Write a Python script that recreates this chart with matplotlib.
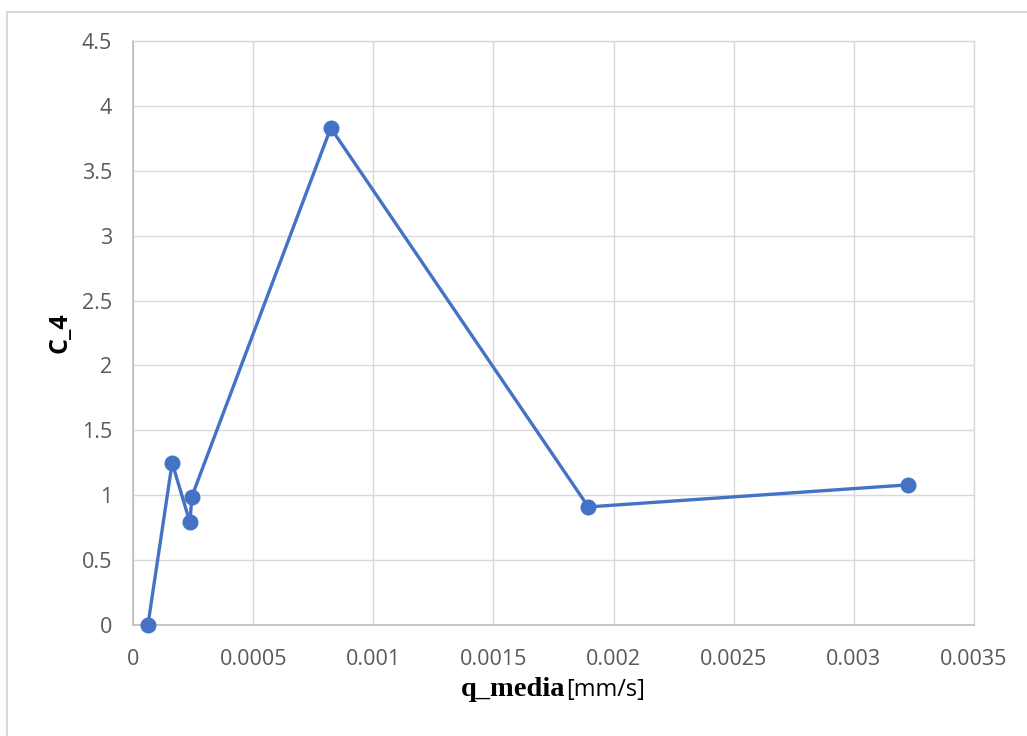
import matplotlib
matplotlib.use("Agg")
import matplotlib.pyplot as plt
from matplotlib.patches import Rectangle

# data
q_media = [0.000062, 0.000163, 0.000237, 0.000245, 0.000823, 0.001895, 0.003226]
c_4 = [0.0, 1.25, 0.79, 0.99, 3.83, 0.91, 1.08]

x_ticks = [0, 0.0005, 0.001, 0.0015, 0.002, 0.0025, 0.003, 0.0035]
x_tick_labels = ["0", "0.0005", "0.001", "0.0015", "0.002", "0.0025", "0.003", "0.0035"]
y_ticks = [0, 0.5, 1, 1.5, 2, 2.5, 3, 3.5, 4, 4.5]
y_tick_labels = ["0", "0.5", "1", "1.5", "2", "2.5", "3", "3.5", "4", "4.5"]

W, H = 1027, 736
fig = plt.figure(figsize=(W / 100, H / 100), dpi=100)

# chart area border (Excel style), runs off the right/bottom edge
fig.add_artist(Rectangle((7 / W, -0.1), 1.1, (H - 12) / H + 0.1,
                         transform=fig.transFigure, fill=False,
                         edgecolor="#D9D9D9", linewidth=1.5))

ax = fig.add_axes([133 / W, (H - 625) / H, (974 - 133) / W, (625 - 41) / H])

ax.plot(q_media, c_4, color="#4472C4", linewidth=2.4, marker="o",
        markersize=10.5, zorder=3, clip_on=False)

ax.set_xlim(0, 0.0035)
ax.set_ylim(0, 4.5)
ax.set_xticks(x_ticks)
ax.set_xticklabels(x_tick_labels)
ax.set_yticks(y_ticks)
ax.set_yticklabels(y_tick_labels)

tick_font = "Open Sans"
for lab in ax.get_xticklabels() + ax.get_yticklabels():
    lab.set_fontfamily(tick_font)
    lab.set_fontsize(15.5)
    lab.set_color("#595959")
ax.tick_params(axis="both", length=0)
ax.tick_params(axis="x", pad=17)
ax.tick_params(axis="y", pad=15)

ax.grid(True, color="#D9D9D9", linewidth=1.0)
ax.set_axisbelow(True)
for side in ["top", "right"]:
    ax.spines[side].set_color("#D9D9D9")
    ax.spines[side].set_linewidth(1.0)
for side in ["left", "bottom"]:
    ax.spines[side].set_color("#BFBFBF")
    ax.spines[side].set_linewidth(1.2)

# y label
fig.text(60 / W, 1 - 333 / H, "C_4", rotation=90, ha="center", va="center",
         fontsize=18, fontweight="bold", family="Open Sans")

# x label: bold serif part + plain sans part, centred together
fig.canvas.draw()
renderer = fig.canvas.get_renderer()
t1 = fig.text(0, 1 - 690 / H, "q_media", fontsize=20.5, fontweight="bold",
              family="Liberation Serif", va="center")
t2 = fig.text(0, 1 - 690 / H, "[mm/s]", fontsize=17, family="Open Sans",
              va="center")
w1 = t1.get_window_extent(renderer).width
w2 = t2.get_window_extent(renderer).width
start = 553 - (w1 + w2) / 2
t1.set_x(start / W)
t2.set_x((start + w1) / W)

fig.savefig("out.png", dpi=100)
